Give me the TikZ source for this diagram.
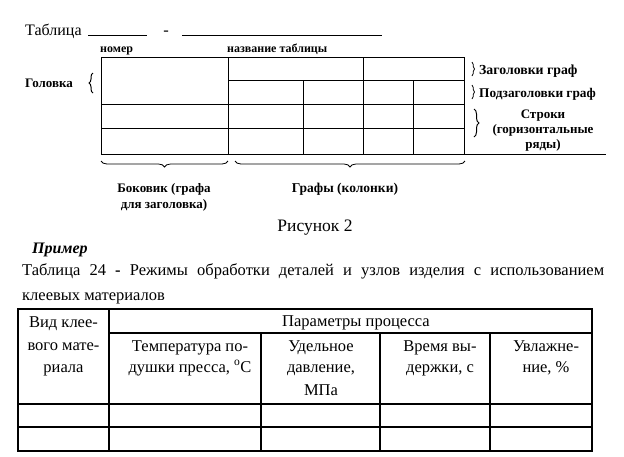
\documentclass[tikz,border=0pt]{standalone}
\usepackage{fontspec}
\setmainfont{Liberation Serif}
\usetikzlibrary{decorations.pathreplacing}
\begin{document}
\begin{tikzpicture}[x=1pt,y=-1pt,
  txt/.style={inner sep=0pt, font=\fontsize{16.5}{19}\selectfont},
  lbl/.style={inner sep=0pt, font=\fontsize{13}{15}\selectfont\bfseries},
  sml/.style={inner sep=0pt, font=\fontsize{12}{14}\selectfont\bfseries},
  cell/.style={inner sep=0pt, font=\fontsize{16.5}{19}\selectfont},
  grid/.style={line width=0.8pt},
  tbl/.style={line width=1.3pt},
  brc/.style={line width=0.8pt, decorate, decoration={brace, amplitude=#1}}]
\useasboundingbox (0,0) rectangle (624,456);
% ---- top scheme ----
\node[txt, anchor=base west, font=\fontsize{16}{19}\selectfont] (tab) at (25,35) {Таблица};
\draw[line width=0.8pt] (88,35) -- (147,35);
\node[txt, anchor=base] (dash) at (166,35) {-};
\draw[line width=0.8pt] (182,35) -- (382,35);
\node[sml, anchor=base west] (nom) at (100,52) {номер};
\node[sml, anchor=base west] (naz) at (227,52) {название таблицы};
\draw[grid] (101,57) rectangle (464,154);
\draw[grid] (228,80) -- (464,80);
\draw[grid] (101,104) -- (464,104);
\draw[grid] (101,128) -- (464,128);
\draw[grid] (228,57) -- (228,154);
\draw[grid] (363,57) -- (363,154);
\draw[grid] (303,80) -- (303,154);
\draw[grid] (413,80) -- (413,154);
\draw[grid] (464,154) -- (606,154);
\node[lbl, anchor=base west] (gol) at (25,87) {Головка};
\draw[brc=4pt, line width=1pt] (93,93) -- (93,73);
\draw[brc=2.5pt] (472,62) -- (472,76);
\node[lbl, anchor=base west, font=\fontsize{13.8}{15}\selectfont\bfseries] (zag) at (479,74) {Заголовки граф};
\draw[brc=2.5pt] (472,85) -- (472,99);
\node[lbl, anchor=base west, font=\fontsize{13.3}{15}\selectfont\bfseries] (pod) at (479,97) {Подзаголовки граф};
\draw[brc=5pt, line width=1pt] (474,109) -- (474,137);
\node[lbl, anchor=base] (str1) at (543,118) {Строки};
\node[lbl, anchor=base] (str2) at (543,133) {(горизонтальные};
\node[lbl, anchor=base] (str3) at (543,148) {ряды)};
\draw[brc=6pt] (228,161) -- (101,161);
\draw[brc=6pt] (465,161) -- (235,161);
\node[lbl, anchor=base] (bok1) at (164,192) {Боковик (графа};
\node[lbl, anchor=base] (bok2) at (164,208) {для заголовка)};
\node[lbl, anchor=base, font=\fontsize{13.5}{15}\selectfont\bfseries] (gra) at (345,192) {Графы (колонки)};
\node[txt, anchor=base, font=\fontsize{17.5}{20}\selectfont] (ris) at (315,231) {Рисунок 2};
% ---- example ----
\node[txt, anchor=base west, font=\fontsize{16}{19}\selectfont\bfseries\itshape] (pri) at (32,253) {Пример};
\node[txt, anchor=base west] (cap1) at (22,275) {\makebox[582pt][s]{Таблица 24 \textbf{-} Режимы обработки деталей и узлов изделия с использованием}};
\node[txt, anchor=base west] (cap2) at (22,300) {клеевых материалов};
\draw[tbl] (18,309) rectangle (592,451);
\draw[tbl] (109,333) -- (592,333);
\draw[tbl] (18,404) -- (592,404);
\draw[tbl] (18,427) -- (592,427);
\draw[tbl] (109,309) -- (109,451);
\draw[tbl] (261,333) -- (261,451);
\draw[tbl] (380,333) -- (380,451);
\draw[tbl] (490,333) -- (490,451);
\node[cell, anchor=base] (v1) at (63.5,327) {Вид клее-};
\node[cell, anchor=base] (v2) at (63.5,350) {вого мате-};
\node[cell, anchor=base] (v3) at (63.5,372) {риала};
\node[cell, anchor=base] (par) at (356,326) {Параметры процесса};
\node[cell, anchor=base] (t1) at (190,351) {Температура по-};
\node[cell, anchor=base] (t2) at (190,372) {душки пресса, \textsuperscript{o}C};
\node[cell, anchor=base] (u1) at (321,351) {Удельное};
\node[cell, anchor=base] (u2) at (321,372) {давление,};
\node[cell, anchor=base] (u3) at (321,395) {МПа};
\node[cell, anchor=base] (b1) at (440,351) {Время вы-};
\node[cell, anchor=base] (b2) at (440,372) {держки, с};
\node[cell, anchor=base] (h1) at (546,351) {Увлажне-};
\node[cell, anchor=base] (h2) at (546,372) {ние, \%};
\end{tikzpicture}
\end{document}
